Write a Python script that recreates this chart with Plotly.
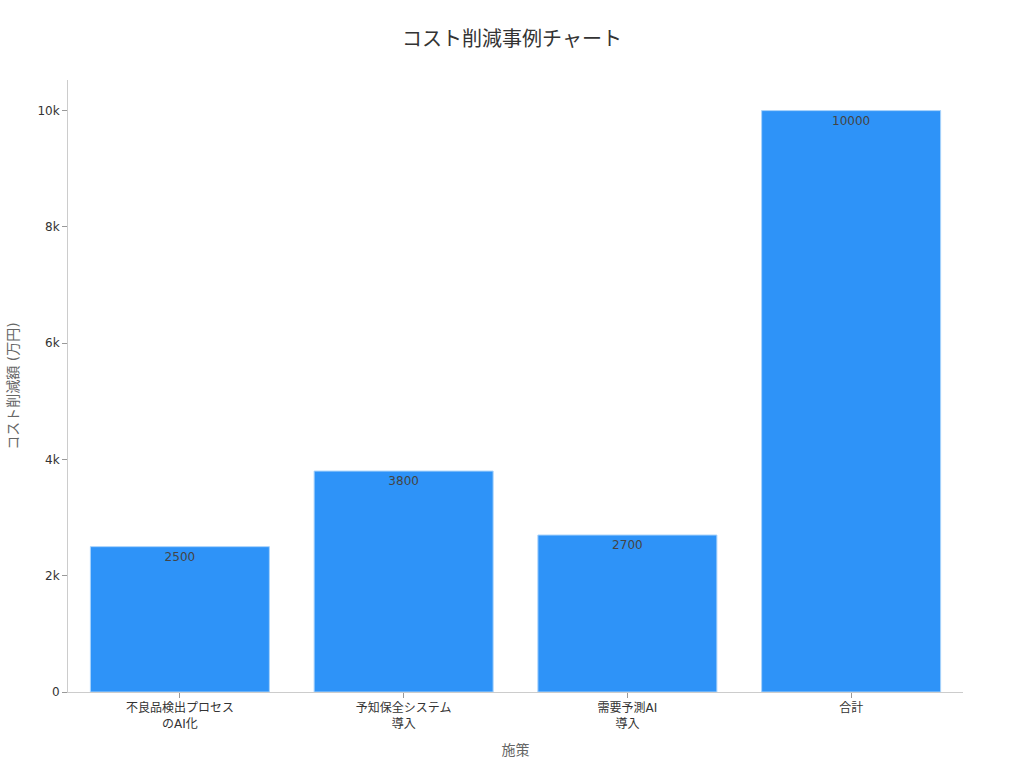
import plotly.graph_objects as go

measures = ['不良品検出プロセス<br>のAI化', '予知保全システム<br>導入', '需要予測AI<br>導入', '合計']
savings = [2500, 3800, 2700, 10000]

fig = go.Figure()
fig.add_trace(go.Bar(
    x=measures,
    y=savings,
    text=savings,
    textposition='inside',
    insidetextanchor='end',
    textfont=dict(color='#444', size=12),
    marker=dict(color='#2E93F8', line=dict(color='#A9D3FB', width=1)),
))

fig.update_layout(
    width=1024,
    height=768,
    title=dict(text='コスト削減事例チャート', x=0.5, xanchor='center', y=0.958,
               font=dict(size=20, color='#333')),
    font=dict(family='DejaVu Sans, Noto Sans CJK JP', size=12, color='#333'),
    plot_bgcolor='white',
    paper_bgcolor='white',
    margin=dict(l=68, r=61, t=80, b=76),
    bargap=0.2,
    showlegend=False,
    xaxis=dict(
        title=dict(text='施策', font=dict(size=14, color='#666'), standoff=15),
        showline=True, linecolor='#ccc', linewidth=1,
        ticks='outside', tickcolor='#999', ticklen=5,
        showgrid=False,
    ),
    yaxis=dict(
        title=dict(text='コスト削減額 (万円)', font=dict(size=14, color='#666'), standoff=15),
        showline=True, linecolor='#ccc', linewidth=1,
        ticks='outside', tickcolor='#999', ticklen=5,
        showgrid=False, zeroline=False,
        dtick=2000,
    ),
)

# page body has a default 8px margin; drop it so the figure sits at 0,0
fig.write_html('out.html', config={'displayModeBar': False},
               post_script="document.body.style.margin='0';")
